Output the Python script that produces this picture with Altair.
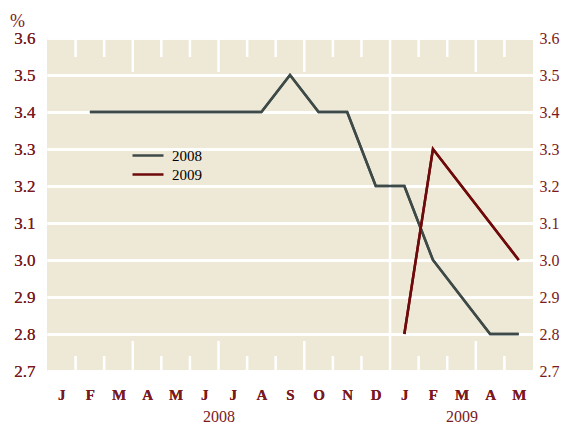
import altair as alt
import pandas as pd

months = ["J", "F", "M", "A", "M", "J", "J", "A", "S", "O", "N", "D",
          "J", "F", "M", "A", "M"]
years = ["2008", "2009"]
year_centers = [6, 14.5]

idx_2008 = list(range(1, 17))
vals_2008 = [3.4, 3.4, 3.4, 3.4, 3.4, 3.4, 3.4, 3.5, 3.4, 3.4, 3.2, 3.2,
             3.0, 2.9, 2.8, 2.8]
idx_2009 = [12, 13, 14, 15, 16]
vals_2009 = [2.8, 3.3, 3.2, 3.1, 3.0]

minor_bounds = [1, 2, 4, 5, 7, 8, 10, 11, 13, 14, 16]
major_bounds = [3, 6, 9, 15]
year_bounds = [12]

y_ticks = [2.7, 2.8, 2.9, 3.0, 3.1, 3.2, 3.3, 3.4, 3.5, 3.6]

FONT = "Liberation Serif"
RED = "#7a1a1e"
GREY = "#3e4a47"
DARKRED = "#6e0a0a"
BG = "#eee9d7"

rows = []
for i, v in zip(idx_2008, vals_2008):
    rows.append({"x": i + 0.5, "v": v, "series": "2008"})
for i, v in zip(idx_2009, vals_2009):
    rows.append({"x": i + 0.5, "v": v, "series": "2009"})
df = pd.DataFrame(rows)

minor_df = pd.DataFrame({"b": minor_bounds})
major_df = pd.DataFrame({"b": major_bounds})
year_df = pd.DataFrame({"b": year_bounds})

xscale = alt.Scale(domain=[0, 17], nice=False, zero=False)
yscale = alt.Scale(domain=[2.7, 3.6], nice=False, zero=False)

month_expr = "[" + ",".join("'%s'" % m for m in months) + "][floor(datum.value)]"
year_expr = "datum.value < 10 ? '2008' : '2009'"

month_axis = alt.Axis(values=[i + 0.5 for i in range(len(months))],
                      labelExpr=month_expr, orient="bottom", domain=False,
                      ticks=False, grid=False, labelFont=FONT, labelFontSize=15,
                      labelColor=RED, labelPadding=16, title=None,
                      labelFontWeight="bold")
year_axis = alt.Axis(values=year_centers, labelExpr=year_expr, orient="bottom",
                     domain=False, ticks=False, grid=False, labelFont=FONT,
                     labelFontSize=16, labelColor=RED, labelPadding=37,
                     title=None)
left_axis = alt.Axis(values=y_ticks, format=".1f", orient="left", domain=False,
                     ticks=False, grid=True, gridColor="white", gridWidth=2.5,
                     labelFont=FONT, labelFontSize=17, labelColor=RED,
                     labelPadding=12, title=None)
right_axis = alt.Axis(values=y_ticks, format=".1f", orient="right", domain=False,
                      ticks=False, grid=False, labelFont=FONT, labelFontSize=16,
                      labelColor=RED, labelPadding=6, title=None)

lines = alt.Chart(df).mark_line(strokeWidth=2.5).encode(
    x=alt.X("x:Q", scale=xscale, axis=month_axis),
    y=alt.Y("v:Q", scale=yscale, axis=left_axis),
    color=alt.Color("series:N",
                    scale=alt.Scale(domain=years, range=[GREY, DARKRED]),
                    legend=alt.Legend(orient="none", legendX=84, legendY=108,
                                      title=None, symbolType="stroke",
                                      symbolSize=961, symbolStrokeWidth=2.5,
                                      clipHeight=19, rowPadding=0, padding=0,
                                      labelFont=FONT, labelFontSize=15,
                                      labelColor="black", labelOffset=7)),
)

ghost = alt.Chart(df).mark_line(opacity=0).encode(
    x=alt.X("x:Q", scale=xscale, axis=year_axis),
    y=alt.Y("v:Q", scale=yscale, axis=right_axis),
)

year_rule = alt.Chart(year_df).mark_rule(color="white", strokeWidth=2.5).encode(
    x=alt.X("b:Q", scale=xscale, axis=None),
    y=alt.value(0), y2=alt.value(333),
)
minor_top = alt.Chart(minor_df).mark_rule(color="white", strokeWidth=2.5).encode(
    x=alt.X("b:Q", scale=xscale, axis=None),
    y=alt.value(0), y2=alt.value(19),
)
minor_bot = alt.Chart(minor_df).mark_rule(color="white", strokeWidth=2.5).encode(
    x=alt.X("b:Q", scale=xscale, axis=None),
    y=alt.value(318), y2=alt.value(333),
)
major_top = alt.Chart(major_df).mark_rule(color="white", strokeWidth=2.5).encode(
    x=alt.X("b:Q", scale=xscale, axis=None),
    y=alt.value(0), y2=alt.value(34),
)
major_bot = alt.Chart(major_df).mark_rule(color="white", strokeWidth=2.5).encode(
    x=alt.X("b:Q", scale=xscale, axis=None),
    y=alt.value(303), y2=alt.value(333),
)

chart = alt.layer(
    lines, ghost, year_rule, minor_top, minor_bot, major_top, major_bot, lines
).resolve_axis(x="independent", y="independent").properties(
    width=486, height=333,
    autosize=alt.AutoSizeParams(type="none"),
    padding={"left": 39, "top": 30, "right": 27, "bottom": 52},
    title=alt.Title("%", anchor="start", frame="group", dx=-37, offset=0,
                    dy=2, font=FONT, fontSize=18, fontWeight="normal",
                    color=RED),
).configure_view(fill=BG, stroke=None).configure_axis(
    labelFont=FONT
).configure_title(font=FONT)

chart.save("out.html", embed_options={"renderer": "svg", "actions": False})
